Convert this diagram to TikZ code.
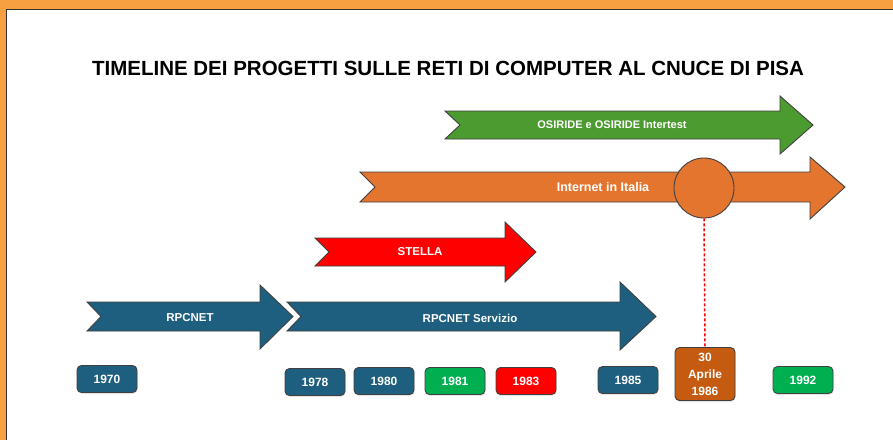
\documentclass[tikz,border=0pt]{standalone}
\usepackage{fontspec}
\setmainfont{Liberation Sans}
\usetikzlibrary{shadows}
\begin{document}
\begin{tikzpicture}[x=1pt,y=-1pt,
  arrowbody/.style={draw=black!75,line width=0.9pt},
  arrowlabel/.style={text=white,font=\bfseries\fontsize{11.5}{13}\selectfont,inner sep=0pt},
  yearbox/.style={draw=black!75,line width=0.9pt,rounded corners=4.5pt,minimum width=60pt,minimum height=27pt,inner sep=0pt,text=white,font=\bfseries\fontsize{12}{14}\selectfont,align=center,drop shadow={opacity=0.2,shadow xshift=0.5pt,shadow yshift=-1.5pt}},
]
\definecolor{frameorange}{HTML}{F6A042}
\definecolor{tealblue}{HTML}{1E5E7E}
\definecolor{osigreen}{HTML}{4C9B30}
\definecolor{inetorange}{HTML}{E3752F}
\definecolor{stellared}{HTML}{FF0000}
\definecolor{boxgreen}{HTML}{00B050}
\definecolor{boxorange}{HTML}{C55A11}
% frame
\useasboundingbox (0,0) rectangle (893,440);
\fill[white] (0,0) rectangle (893,440);
\fill[frameorange] (0,0) rectangle (893,9);
\fill[frameorange] (0,0) rectangle (6,440);
\draw[black!80,line width=1pt] (893,9.5) -- (6.5,9.5) -- (6.5,440);
% title
\node[font=\bfseries\fontsize{20.5}{24}\selectfont,inner sep=0pt] (title) at (448,68) {TIMELINE DEI PROGETTI SULLE RETI DI COMPUTER AL CNUCE DI PISA};
% chevron arrows: tail x, notch depth, head start, tip, body top, body bottom, head top, head bottom, colour
\newcommand{\chevarrow}[9]{%
  \filldraw[arrowbody,fill=#9] (#1,#5) -- (#3,#5) -- (#3,#7) -- (#4,{(#5+#6)/2}) -- (#3,#8) -- (#3,#6) -- (#1,#6) -- ({#1+#2},{(#5+#6)/2}) -- cycle;}
\chevarrow{445}{15}{780}{813}{111}{139}{96}{154}{osigreen}
\chevarrow{360}{15}{810}{845}{172}{202}{157}{219}{inetorange}
\chevarrow{315}{14}{505}{536}{238}{266}{222}{282}{stellared}
\chevarrow{87}{14}{260}{293}{302}{331}{285}{349}{tealblue}
\chevarrow{287}{14}{620}{656}{302}{331}{282}{350}{tealblue}
\node[arrowlabel,font=\bfseries\fontsize{11}{13}\selectfont] (osiride) at (612,125) {OSIRIDE e OSIRIDE Intertest};
\node[arrowlabel,font=\bfseries\fontsize{12.5}{14}\selectfont] (inet) at (603,187) {Internet in Italia};
\node[arrowlabel] (stella) at (420,252) {STELLA};
\node[arrowlabel] (rpcnet) at (190,318) {RPCNET};
\node[arrowlabel] (rpcserv) at (470,318) {RPCNET Servizio};
% circle
\node[circle,draw=black!75,line width=0.9pt,fill=inetorange,minimum size=60pt,inner sep=0pt] (milestone) at (704,188) {};
% year boxes
\node[yearbox,fill=tealblue] (y1970) at (107,379) {1970};
\node[yearbox,fill=tealblue] (y1978) at (315,382) {1978};
\node[yearbox,fill=tealblue] (y1980) at (384,381) {1980};
\node[yearbox,fill=boxgreen] (y1981) at (455,381) {1981};
\node[yearbox,fill=stellared] (y1983) at (526,381) {1983};
\node[yearbox,fill=tealblue] (y1985) at (628,380) {1985};
\node[yearbox,fill=boxorange,minimum height=53pt,font=\bfseries\fontsize{12}{17}\selectfont] (y1986) at (705,374) {30\\Aprile\\1986};
\node[yearbox,fill=boxgreen] (y1992) at (803,380) {1992};
% dashed connector
\draw[red,line width=1.5pt,dash pattern=on 3pt off 2pt] (milestone.south) -- (y1986.north);
\end{tikzpicture}
\end{document}
